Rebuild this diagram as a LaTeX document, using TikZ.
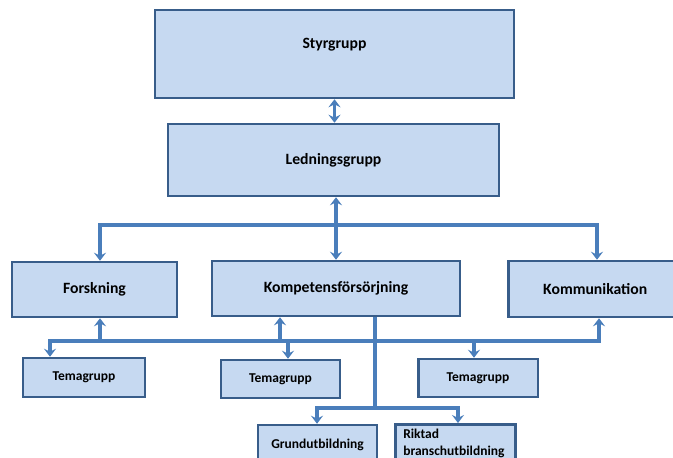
\documentclass[tikz,border=0pt]{standalone}
\usepackage{fontspec}
\setmainfont{Carlito}
\usetikzlibrary{arrows.meta}

\definecolor{boxfill}{HTML}{C6D9F1}
\definecolor{boxline}{HTML}{385D8A}
\definecolor{linkblue}{HTML}{4A7EBB}

\begin{document}
\begin{tikzpicture}[x=1pt,y=-1pt,
  bigbox/.style={rectangle,draw=boxline,fill=boxfill,line width=2.5pt,inner sep=0pt,
    font=\fontsize{15.7}{19}\selectfont\bfseries},
  smallbox/.style={rectangle,draw=boxline,fill=boxfill,line width=2.5pt,inner sep=0pt,
    font=\fontsize{13.5}{17}\selectfont\bfseries},
  link/.style={draw=linkblue,line width=3.2pt,
    arrows={-Stealth[length=8pt,width=12pt,inset=3pt]}},
  dlink/.style={link,arrows={Stealth[length=8pt,width=12pt,inset=3pt]-Stealth[length=8pt,width=12pt,inset=3pt]}},
  plain/.style={draw=linkblue,line width=3.2pt}]
  \useasboundingbox (0,0) rectangle (673,458);
  \clip (0,0) rectangle (673,458);

  % Top levels
  \node[bigbox,minimum width=359pt,text height=38pt,text depth=50pt] (styr) at (334.5,54) {Styrgrupp};
  \node[bigbox,minimum width=331pt,minimum height=72pt] (led) at (333.5,160) {Ledningsgrupp};

  % Main areas
  \node[bigbox,minimum width=165pt,minimum height=55pt] (fors) at (94.5,289.5) {Forskning};
  \node[bigbox,minimum width=248pt,minimum height=55pt] (komp) at (336,288.5) {Kompetensförsörjning};
  \node[bigbox,minimum width=173.5pt,minimum height=56pt] (komm) at (595.25,289) {Kommunikation};

  % Theme groups
  \node[smallbox,minimum width=122pt,minimum height=39pt] (tema1) at (84,377.5) {Temagrupp};
  \node[smallbox,minimum width=119pt,minimum height=38pt] (tema2) at (280.5,379) {Temagrupp};
  \node[smallbox,minimum width=119.5pt,minimum height=38pt] (tema3) at (478,378) {Temagrupp};

  % Education
  \node[smallbox,minimum width=119pt,minimum height=40pt] (grund) at (317.5,445) {Grundutbildning};
  \node[smallbox,anchor=north west,text width=104pt,align=left,inner xsep=8pt,inner ysep=5pt] (rikt) at (394,423) {Riktad\\branschutbildning};

  % Styrgrupp <-> Ledningsgrupp
  \draw[dlink] (styr.south) -- (styr.south |- led.north);

  % Ledningsgrupp bus
  \coordinate (b1) at (336,225);
  \coordinate (b1w) at (100,225);
  \coordinate (b1e) at (597,225);
  \draw[link] (b1) -- (b1 |- led.south);
  \draw[link] (b1) -- (b1 |- komp.north);
  \draw[dlink] (b1w |- fors.north) -- (b1w) -- (b1e) -- (b1e |- komm.north);

  % Theme group bus
  \coordinate (b2w) at (50,341);
  \coordinate (b2e) at (599,341);
  \coordinate (b2f) at (100,341);
  \coordinate (b2k) at (280,341);
  \coordinate (b2t2) at (288,341);
  \coordinate (b2t3) at (474,341);
  \draw[dlink] (b2w |- tema1.north) -- (b2w) -- (b2e) -- (b2e |- komm.south);
  \draw[link] (b2f) -- (b2f |- fors.south);
  \draw[link] (b2k) -- (b2k |- komp.south);
  \draw[link] (b2t2) -- (b2t2 |- tema2.north);
  \draw[link] (b2t3) -- (b2t3 |- tema3.north);

  % Education branch
  \coordinate (b3) at (375,408);
  \coordinate (b3w) at (317,408);
  \coordinate (b3e) at (458,408);
  \draw[plain] (b3 |- komp.south) -- (b3);
  \draw[dlink] (b3w |- grund.north) -- (b3w) -- (b3e) -- (b3e |- rikt.north);
\end{tikzpicture}
\end{document}
